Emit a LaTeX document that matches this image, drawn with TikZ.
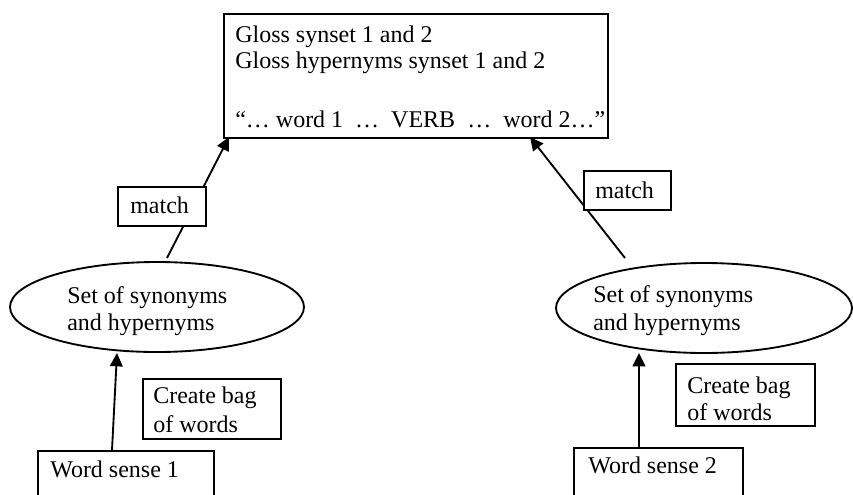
\documentclass[tikz,border=0pt]{standalone}
\usepackage{fontspec}
\setmainfont{Liberation Serif}
\usetikzlibrary{arrows.meta,shapes.geometric}
\begin{document}
\begin{tikzpicture}[x=0.75pt,y=-0.75pt,
 box/.style={draw,line width=1.4pt,fill=white,inner sep=0,anchor=north west},
 oval/.style={draw,ellipse,line width=1.4pt,inner sep=0,minimum height=67.5pt},
 lbl/.style={anchor=base west,inner sep=0,font=\fontsize{18}{21}\selectfont},
 conn/.style={line width=1.4pt,-{Triangle[length=10pt,width=9.5pt]}}]
\useasboundingbox (0,0) rectangle (853,494);
\clip (0,0) rectangle (853,494);
% main nodes
\node[box,minimum width=288pt,minimum height=93pt] (gloss) at (223,13) {};
\node[oval,minimum width=220.5pt] (e1) at (157,307) {};
\node[oval,minimum width=222pt] (e2) at (704,308) {};
\node[box,minimum width=132pt,minimum height=45pt] (ws1) at (37,450) {};
\node[box,minimum width=126.75pt,minimum height=45pt] (ws2) at (573,447) {};
% connector end points
\coordinate (t1) at (229,137);
\coordinate (t2) at (530,137);
\coordinate (s1) at (167,258);
\coordinate (s2) at (625,258);
\coordinate (b1) at (117,353);
\coordinate (w1) at (112,450);
\coordinate (b2) at (639,353);
\coordinate (w2) at (639,447);
\draw[conn] (s1) -- (t1);
\draw[conn] (s2) -- (t2);
\draw[conn] (w1) -- (b1);
\draw[conn] (w2) -- (b2);
% label boxes
\node[box,minimum width=66pt,minimum height=29.25pt] (m1) at (117,186) {};
\node[box,minimum width=65.25pt,minimum height=29.25pt] (m2) at (583,170) {};
\node[box,minimum width=103.5pt,minimum height=45pt] (c1) at (142,378) {};
\node[box,minimum width=104.25pt,minimum height=46.5pt] (c2) at (675,363) {};
% texts
\node[lbl] (g1) at (235,42) {Gloss synset 1 and 2};
\node[lbl] (g2) at (235,68) {Gloss hypernyms synset 1 and 2};
\node[lbl] (g3) at (235,127) {“… word 1\ \ …\ \ VERB\ \ …\ \ word 2…”};
\node[lbl] (e1a) at (67,303) {Set of synonyms};
\node[lbl] (e1b) at (67,330) {and hypernyms};
\node[lbl] (e2a) at (593,302) {Set of synonyms};
\node[lbl] (e2b) at (593,330) {and hypernyms};
\node[lbl] (m1t) at (130,213) {match};
\node[lbl] (m2t) at (595,198) {match};
\node[lbl] (c1a) at (153,403) {Create bag};
\node[lbl] (c1b) at (153,432) {of words};
\node[lbl] (c2a) at (687,393) {Create bag};
\node[lbl] (c2b) at (687,420) {of words};
\node[lbl] (w1t) at (50,477) {Word sense 1};
\node[lbl] (w2t) at (588,473) {Word sense 2};
\end{tikzpicture}
\end{document}
